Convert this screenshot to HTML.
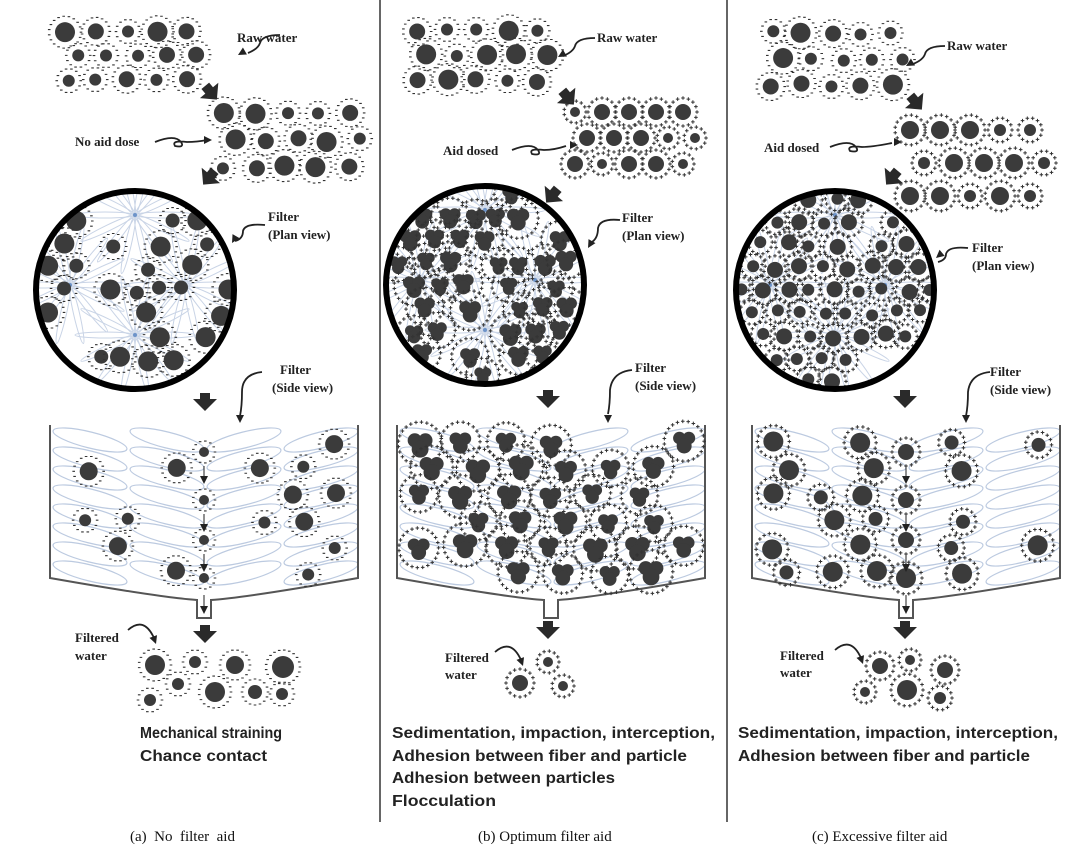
<!DOCTYPE html>
<html><head><meta charset="utf-8">
<style>
html,body{margin:0;padding:0;background:#fff;}
svg{display:block;}
.lb{font-family:"Liberation Serif",serif;font-weight:bold;font-size:13px;fill:#222;}
.bt{font-family:"Liberation Sans",sans-serif;font-weight:bold;font-size:15.5px;fill:#222;}
.cap{font-family:"Liberation Serif",serif;font-size:15px;fill:#111;}
</style></head>
<body>
<svg id="s" width="1072" height="854" viewBox="0 0 1072 854" xmlns="http://www.w3.org/2000/svg">
<rect width="1072" height="854" fill="#fff"/>
<line x1="380" y1="0" x2="380" y2="822" stroke="#666" stroke-width="2"/>
<line x1="727" y1="0" x2="727" y2="822" stroke="#666" stroke-width="2"/>
<g id="g"></g>
<text class="lb" x="237" y="42">Raw water</text>
<text class="lb" x="75" y="146">No aid dose</text>
<text class="lb" x="268" y="221">Filter</text><text class="lb" x="268" y="239">(Plan view)</text>
<text class="lb" x="280" y="374">Filter</text><text class="lb" x="272" y="392">(Side view)</text>
<text class="lb" x="75" y="642">Filtered</text><text class="lb" x="75" y="660">water</text>
<text class="bt" x="140" y="738" textLength="142" lengthAdjust="spacingAndGlyphs">Mechanical straining</text>
<text class="bt" x="140" y="761" textLength="127" lengthAdjust="spacingAndGlyphs">Chance contact</text>
<text class="lb" x="597" y="42">Raw water</text>
<text class="lb" x="443" y="155">Aid dosed</text>
<text class="lb" x="622" y="222">Filter</text><text class="lb" x="622" y="240">(Plan view)</text>
<text class="lb" x="635" y="372">Filter</text><text class="lb" x="635" y="390">(Side view)</text>
<text class="lb" x="445" y="662">Filtered</text><text class="lb" x="445" y="679">water</text>
<text class="bt" x="392" y="738" textLength="323" lengthAdjust="spacingAndGlyphs">Sedimentation, impaction, interception,</text>
<text class="bt" x="392" y="761" textLength="295" lengthAdjust="spacingAndGlyphs">Adhesion between fiber and particle</text>
<text class="bt" x="392" y="783" textLength="223" lengthAdjust="spacingAndGlyphs">Adhesion between particles</text>
<text class="bt" x="392" y="806" textLength="104" lengthAdjust="spacingAndGlyphs">Flocculation</text>
<text class="lb" x="947" y="50">Raw water</text>
<text class="lb" x="764" y="152">Aid dosed</text>
<text class="lb" x="972" y="252">Filter</text><text class="lb" x="972" y="270">(Plan view)</text>
<text class="lb" x="990" y="376">Filter</text><text class="lb" x="990" y="394">(Side view)</text>
<text class="lb" x="780" y="660">Filtered</text><text class="lb" x="780" y="677">water</text>
<text class="bt" x="738" y="738" textLength="320" lengthAdjust="spacingAndGlyphs">Sedimentation, impaction, interception,</text>
<text class="bt" x="738" y="761" textLength="292" lengthAdjust="spacingAndGlyphs">Adhesion between fiber and particle</text>
<text class="cap" x="130" y="841">(a)&#160; No&#160; filter&#160; aid</text>
<text class="cap" x="478" y="841">(b) Optimum filter aid</text>
<text class="cap" x="812" y="841">(c) Excessive filter aid</text>
</svg>
<script>
(function(){
var NS="http://www.w3.org/2000/svg",G=document.getElementById("g");
var seed=7;function R(){seed=(seed*16807)%2147483647;return (seed-1)/2147483646;}
function el(t,a,p){var e=document.createElementNS(NS,t);for(var k in a)e.setAttribute(k,a[k]);(p||G).appendChild(e);return e;}
function ring(cx,cy,rr,type,p){
  var n=Math.max(8,Math.round(2*Math.PI*rr/(type=="+"?5.5:5.2)));var d="";
  for(var i=0;i<n;i++){var a=i/n*6.283,x=cx+rr*Math.cos(a),y=cy+rr*Math.sin(a);
    if(type=="+"){d+="M"+(x-1.8)+" "+y+"h3.6M"+x+" "+(y-1.8)+"v3.6";}
    else d+="M"+(x-1.3)+" "+y+"h2.6";}
  el("path",{d:d,stroke:"#333","stroke-width":type=="+"?1:1.1,fill:"none"},p);
}
function part(cx,cy,r,type,p){
  ring(cx,cy,r+6,type,p);
  el("circle",{cx:cx,cy:cy,r:r,fill:"#3b3b3b"},p);
}
function floc(cx,cy,s,p){
  ring(cx,cy,s*1.9+5,"+",p);
  el("circle",{cx:cx-s*0.6,cy:cy-s*0.4,r:s*0.8,fill:"#3b3b3b"},p);
  el("circle",{cx:cx+s*0.6,cy:cy-s*0.4,r:s*0.8,fill:"#3b3b3b"},p);
  el("circle",{cx:cx,cy:cy+s*0.6,r:s*0.95,fill:"#3b3b3b"},p);
}
function cloud(x0,y0,w,h,cols,rows,type,sc){
  var dx=w/cols,dy=h/rows;
  for(var j=0;j<rows;j++)for(var i=0;i<cols;i++){
    var x=x0+dx*(i+0.5)+(j%2?dx*0.25:-dx*0.1)+(R()-0.5)*4,y=y0+dy*(j+0.5)+(R()-0.5)*4;
    var r=(R()<0.4?10:R()<0.5?8:6)*(sc||1);part(x,y,r,type);}
}
function arrow(x,y,ang){
  var g=el("g",{transform:"translate("+x+","+y+") rotate("+ang+")"});
  el("path",{d:"M-5 -12h10v6h7l-12 12l-12 -12h7z",fill:"#2a2a2a"},g);
}
function curly(d){el("path",{d:d,stroke:"#222","stroke-width":1.8,fill:"none"});}
function head(x,y,ang){var g=el("g",{transform:"translate("+x+","+y+") rotate("+ang+")"});el("path",{d:"M0 0l-8 -4l0 8z",fill:"#222"},g);}
function star(cx,cy,rad,p){
  for(var i=0;i<14;i++){var a=i/14*360,ex=cx+rad/2*Math.cos(a*Math.PI/180),ey=cy+rad/2*Math.sin(a*Math.PI/180);
    el("ellipse",{cx:ex,cy:ey,rx:rad/2,ry:3,transform:"rotate("+a+" "+ex+" "+ey+")",fill:"none",stroke:"#c9d4e6","stroke-width":1},p);}
  el("circle",{cx:cx,cy:cy,r:2,fill:"#6d93c9"},p);
}
function plan(cx,cy,mode){
  var cid="c"+cx;var cp=el("clipPath",{id:cid});el("circle",{cx:cx,cy:cy,r:98},cp);
  var g=el("g",{"clip-path":"url(#"+cid+")"});
  star(cx-65,cy-5,60,g);star(cx+50,cy-5,60,g);star(cx,cy-75,60,g);star(cx,cy+45,60,g);
  for(var j=-4;j<=4;j++)for(var i=-4;i<=4;i++){
    var x=cx+i*24+(j%2?12:0)+(R()-0.5)*6,y=cy+j*23+(R()-0.5)*6;
    if((x-cx)*(x-cx)+(y-cy)*(y-cy)>95*95)continue;
    if(mode=="a"){if(R()<0.55)part(x,y,R()<0.5?10:7,"-",g);}
    else if(mode=="b"){if(R()<0.8)floc(x,y,6+R()*2,g);}
    else {if(R()<0.9)part(x,y,R()<0.5?8:6,"+",g);}
  }
  el("circle",{cx:cx,cy:cy,r:99,fill:"none",stroke:"#000","stroke-width":6});
}
function side(x0,mode){
  var x1=x0+308,mx=x0+154;
  var g=el("g");
  for(var r=0;r<8;r++)for(var k=0;k<4;k++){
    var cx=x0+40+k*77,cy=440+r*19;
    var ang=(k<2?1:-1)*14;
    el("ellipse",{cx:cx,cy:cy,rx:38,ry:8,transform:"rotate("+ang+" "+cx+" "+cy+")",fill:"none",stroke:"#bccae0","stroke-width":1.2},g);
  }
  el("path",{d:"M"+x0+" 425V578Q"+(mx-40)+" 598 "+(mx-7)+" 600V618H"+(mx+7)+"V600Q"+(x1-114)+" 598 "+x1+" 578V425",fill:"none",stroke:"#555","stroke-width":2});
  for(var j=0;j<6;j++)for(var i=0;i<7;i++){
    var x=x0+22+i*44+(j%2?14:0)+(R()-0.5)*6,y=443+j*26+(R()-0.5)*5;
    if(x>x1-15)continue;
    if(mode!="b"&&Math.abs(x-mx)<16)continue;
    if(mode=="a"){if(R()<0.55)part(x,y,R()<0.5?9:6,"-");}
    else if(mode=="b"){if(R()<0.85)floc(x,y,7+R()*2);}
    else {if(R()<0.75)part(x,y,R()<0.5?10:7,"+");}
  }
  if(mode!="b"){var ys=[452,500,540,578];for(var t=0;t<4;t++){part(mx,ys[t],mode=="a"?5:(t==3?10:8),mode=="a"?"-":"+");}
    for(var t=0;t<3;t++){el("line",{x1:mx,y1:ys[t]+14,x2:mx,y2:ys[t]+28,stroke:"#222","stroke-width":1});head(mx,ys[t]+32,90);}
    el("line",{x1:mx,y1:595,x2:mx,y2:610,stroke:"#222","stroke-width":1});head(mx,614,90);}
}
cloud(55,18,150,75,5,3,"-");
cloud(212,100,155,80,5,3,"-");
arrow(213,95,-40);arrow(207,180,40);
curly("M280 35q-18 0 -20 8q-2 6 -12 10");head(238,55,150);
curly("M155 142q20 -8 26 0q4 6 -6 4q-4 -6 12 -4q10 0 20 -2");head(212,140,0);
curly("M265 225q-20 -2 -22 6q0 8 -8 10");head(232,243,120);
plan(135,290,"a");
arrow(205,405,0);
curly("M262 372q-20 2 -20 20q0 14 -2 24");head(240,423,90);
side(50,"a");
arrow(205,637,0);
curly("M128 630q16 -14 26 8");head(156,644,70);
part(155,665,10,"-");part(195,662,6,"-");part(235,665,9,"-");part(283,667,11,"-");
part(178,684,6,"-");part(215,692,10,"-");part(255,692,7,"-");part(150,700,6,"-");part(282,694,6,"-");
cloud(405,18,150,75,5,3,"-");
arrow(570,100,-40);arrow(550,198,40);
plan(485,285,"b");
curly("M595 38q-18 0 -20 8q-2 6 -12 10");head(558,57,150);
curly("M512 150q20 -8 26 0q4 6 -6 4q-4 -6 12 -4q10 0 22 -4");head(578,145,0);
for(var j=0;j<3;j++)for(var i=0;i<5;i++){part(575+i*27+(j%2?12:0),112+j*26,R()<0.5?8:5,"+");}
curly("M620 220q-20 -2 -22 8q0 10 -6 14");head(588,248,120);
curly("M632 370q-20 2 -22 20q0 14 -2 24");head(608,423,90);
arrow(548,402,0);
side(397,"b");
arrow(548,633,0);
curly("M495 652q16 -14 26 8");head(523,666,70);
part(548,662,5,"+");part(520,683,8,"+");part(563,686,5,"+");
cloud(760,20,150,78,5,3,"-");
arrow(918,105,-40);arrow(890,180,40);
curly("M945 46q-18 0 -20 8q-2 6 -12 10");head(906,66,150);
curly("M830 147q20 -8 26 0q4 6 -6 4q-4 -6 12 -4q10 0 30 -4");head(902,142,0);
for(var j=0;j<3;j++)for(var i=0;i<5;i++){part(910+i*30+(j%2?14:0),130+j*33,R()<0.5?9:6,"+");}
plan(835,290,"c");
curly("M968 248q-20 -2 -22 6q0 6 -8 8");head(936,258,140);
curly("M990 372q-20 2 -22 20q0 14 -2 24");head(966,423,90);
arrow(905,402,0);
side(752,"c");
arrow(905,633,0);
curly("M835 650q16 -14 26 8");head(863,664,70);
part(880,666,8,"+");part(910,660,5,"+");part(945,670,8,"+");part(865,692,5,"+");part(907,690,10,"+");part(940,698,6,"+");
})();
</script>
</body></html>
